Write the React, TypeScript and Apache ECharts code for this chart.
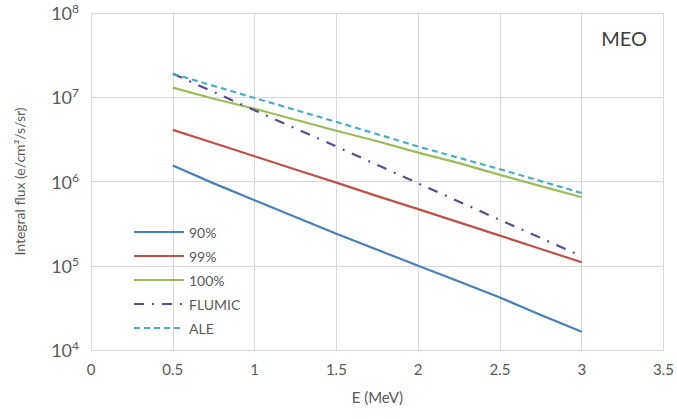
import React, { useEffect, useRef } from "react";
import * as echarts from "echarts";

// Energy grid (MeV)
const energyFine = [0.5, 0.75, 1, 1.25, 1.5, 1.75, 2, 2.25, 2.5, 2.75, 3];
const energyCoarse = [0.5, 1, 1.5, 2, 2.5, 3];

// Integral electron flux (e/cm²/s/sr)
const p90 = [1.55e6, 9.5e5, 6.0e5, 3.8e5, 2.4e5, 1.55e5, 1.0e5, 6.5e4, 4.2e4, 2.6e4, 1.65e4];
const p99 = [4.1e6, 2.86e6, 1.99e6, 1.39e6, 9.7e5, 6.7e5, 4.7e5, 3.27e5, 2.28e5, 1.58e5, 1.1e5];
const p100 = [1.3e7, 9.6e6, 7.3e6, 5.4e6, 4.0e6, 3.0e6, 2.2e6, 1.65e6, 1.2e6, 8.8e5, 6.5e5];
const flumic = [1.9e7, 7.0e6, 2.6e6, 9.5e5, 3.5e5, 1.3e5];
const ale = [1.9e7, 9.8e6, 5.1e6, 2.6e6, 1.4e6, 7.3e5];

const seriesNames = ["90%", "99%", "100%", "FLUMIC", "ALE"];
const xTicks = [0, 0.5, 1, 1.5, 2, 2.5, 3, 3.5];

const pair = (xs: number[], ys: number[]) => xs.map((x, i) => [x, ys[i]]);

const FONT = "Lato, 'Open Sans', sans-serif";
const TEXT = "#595959";
const GRID = "#d9d9d9";

export default function App() {
  const ref = useRef<HTMLDivElement>(null);

  useEffect(() => {
    if (!ref.current) return;
    const chart = echarts.init(ref.current, undefined, { renderer: "svg" });
    const line = (name: string, data: number[][], color: string, type: any) => ({
      name,
      type: "line",
      data,
      symbol: "none",
      smooth: false,
      lineStyle: { color, width: 2.2, type },
      itemStyle: { color },
    });
    chart.setOption({
      animation: false,
      backgroundColor: "#ffffff",
      textStyle: { fontFamily: FONT },
      grid: { left: 91, right: 12, top: 13, bottom: 69 },
      xAxis: {
        type: "value",
        min: 0,
        max: 3.5,
        interval: 0.5,
        name: "E (MeV)",
        nameLocation: "middle",
        nameGap: 39,
        nameTextStyle: { color: TEXT, fontSize: 15, fontFamily: FONT },
        axisLine: { show: true, lineStyle: { color: GRID } },
        axisTick: { show: false },
        axisLabel: {
          color: TEXT,
          fontSize: 15,
          fontFamily: FONT,
          margin: 11,
          formatter: (v: number) => (xTicks.includes(v) ? String(v) : ""),
        },
        splitLine: { show: true, lineStyle: { color: GRID } },
      },
      yAxis: {
        type: "log",
        logBase: 10,
        min: 1e4,
        max: 1e8,
        name: "Integral flux (e/cm²/s/sr)",
        nameLocation: "middle",
        nameGap: 65,
        nameTextStyle: { color: TEXT, fontSize: 14, fontFamily: FONT },
        axisLine: { show: true, lineStyle: { color: GRID } },
        axisTick: { show: false },
        axisLabel: {
          color: TEXT,
          fontSize: 18,
          fontFamily: FONT,
          margin: 12,
          formatter: (v: number) => `10{sup|${Math.round(Math.log10(v))}}`,
          rich: {
            sup: { fontSize: 12, color: TEXT, fontFamily: FONT, verticalAlign: "top", padding: [0, 0, 9, 0] },
          },
        },
        splitLine: { show: true, lineStyle: { color: GRID } },
      },
      legend: {
        orient: "vertical",
        left: 128,
        top: 220,
        itemWidth: 50,
        itemHeight: 14,
        itemGap: 10,
        data: seriesNames,
        itemStyle: { opacity: 0 },
        textStyle: { color: TEXT, fontSize: 14, fontFamily: FONT },
      },
      graphic: [
        {
          type: "text",
          right: 30,
          top: 28,
          style: { text: "MEO", fill: "#404040", fontSize: 20, fontFamily: FONT },
        },
      ],
      series: [
        line("90%", pair(energyFine, p90), "#4a7ebb", "solid"),
        line("99%", pair(energyFine, p99), "#c0504d", "solid"),
        line("100%", pair(energyFine, p100), "#9bbb59", "solid"),
        line("FLUMIC", pair(energyCoarse, flumic), "#5f4b8b", [10, 8, 2, 8]),
        line("ALE", pair(energyCoarse, ale), "#4bacc6", [6, 4]),
      ],
    });
    return () => chart.dispose();
  }, []);

  return (
    <div
      ref={ref}
      style={{ position: "absolute", left: 0, top: 0, width: 677, height: 419 }}
    />
  );
}
